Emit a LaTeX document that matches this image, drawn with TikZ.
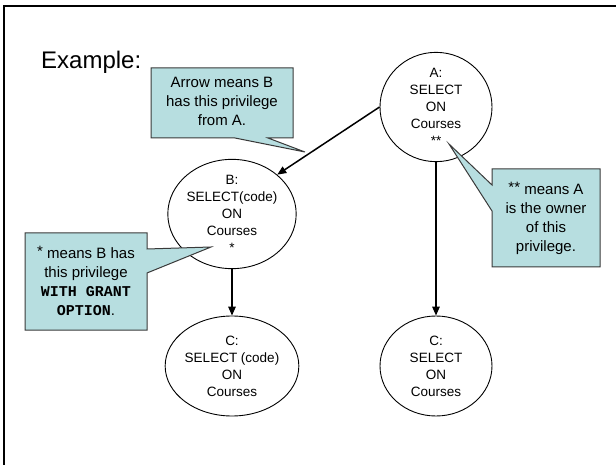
\documentclass[tikz,border=0pt]{standalone}
\usepackage{fontspec}
\setmainfont{Liberation Sans}
\setmonofont{Liberation Mono}
\usetikzlibrary{shapes.geometric,arrows.meta}
\definecolor{callfill}{HTML}{B7DEE0}
\definecolor{callline}{HTML}{3A3A3A}
\tikzset{
  priv/.style={draw, ellipse, minimum width=112pt, minimum height=100pt, inner sep=0pt,
    line width=0.9pt, align=center, font=\fontsize{13.5}{17}\selectfont},
  arr/.style={line width=1.5pt, -{Triangle[length=9pt,width=7.5pt]}},
  callshape/.style={fill=callfill, draw=callline, line width=1pt},
  calltext/.style={align=center, inner sep=0pt, font=\fontsize{15}{19}\selectfont}
}
\newcommand{\mb}[1]{{\ttfamily\bfseries #1}}
\begin{document}
\begin{tikzpicture}[x=1pt,y=-1pt]
\useasboundingbox (0,0) rectangle (616,465);
% frame
\draw[line width=2.5pt] (4,466) -- (4,6) -- (617,6);
% title
\node[anchor=base west, inner sep=0pt, font=\fontsize{24}{28}\selectfont] (title) at (41,69) {Example:};
% privilege nodes
\node[priv] (A) at (436,107) {A:\\SELECT\\ON\\Courses\\**};
\node[priv] (B) at (232,214) {B:\\SELECT(code)\\ON\\Courses\\*};
\node[priv] (C1) at (232,366) {C:\\SELECT (code)\\ON\\Courses};
\node[priv] (C2) at (436,366) {C:\\SELECT\\ON\\Courses};
% arrows
\draw[arr] (A.west) -- (B.41);
\draw[arr] (B.south) -- (C1.north);
\draw[arr] (A.south) -- (C2.north);
% callout 1
\coordinate (t1) at (305,152);
\filldraw[callshape] (151,68) -- (293,68) -- (293,138) -- (268,138) -- (t1) -- (235,138) -- (151,138) -- cycle;
\node[calltext] (c1) at (222,101) {Arrow means B\\has this privilege\\from A.};
% callout 2
\coordinate (t2) at (449,144);
\filldraw[callshape] (492,169) -- (600,169) -- (600,267) -- (492,267) -- (492,211) -- (t2) -- (492,185) -- cycle;
\node[calltext] (c2) at (546,218) {\raisebox{2pt}{**} means A\\is the owner\\of this\\privilege.};
% callout 3
\coordinate (t3) at (211,247);
\filldraw[callshape] (25,233) -- (147,233) -- (147,249) -- (t3) -- (147,273) -- (147,330) -- (25,330) -- cycle;
\node[calltext] (c3) at (86,281) {\raisebox{2pt}{*} means B has\\this privilege\\\mb{WITH GRANT}\\\mb{OPTION}.};
\end{tikzpicture}
\end{document}
